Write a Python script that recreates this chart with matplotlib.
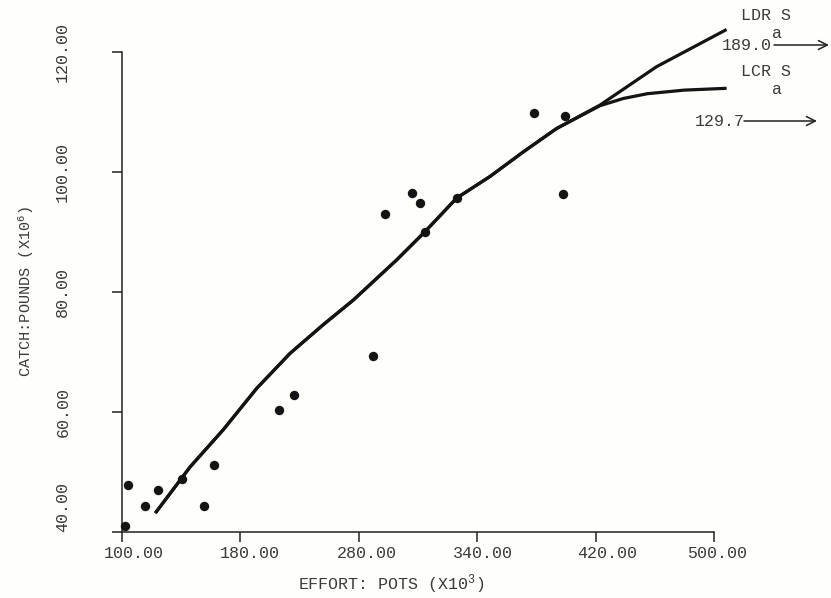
import matplotlib
matplotlib.use("Agg")
import matplotlib.pyplot as plt
from matplotlib.transforms import ScaledTranslation

# ---- data ----
effort_pts = [102.3, 104.5, 115.7, 124.3, 140.9, 155.8, 162.1, 206.4, 216.1,
              269.9, 277.8, 296.2, 301.2, 304.8, 326.2, 378.6, 398.2, 399.5]
catch_pts = [40.95, 47.8, 44.2, 46.9, 48.7, 44.2, 51.1, 60.2, 62.7,
             69.3, 93.0, 96.4, 94.8, 90.0, 95.6, 109.8, 96.3, 109.3]

ldr_x = [122.7, 146.2, 168.6, 191.2, 213.6, 236.1, 256.4, 285.7, 304.8, 326.2,
         348.7, 371.2, 393.7, 423.0, 461.2, 508.5]
ldr_y = [43.1, 50.8, 57.0, 63.9, 69.7, 74.5, 78.6, 85.3, 90.0, 95.6,
         99.2, 103.3, 107.2, 111.1, 117.5, 123.7]

lcr_x = [122.7, 146.2, 168.6, 191.2, 213.6, 236.1, 256.4, 285.7, 304.8, 326.2,
         348.7, 371.2, 393.7, 423.0, 438.7, 455.0, 480.0, 508.5]
lcr_y = [43.1, 50.8, 57.0, 63.9, 69.7, 74.5, 78.6, 85.3, 90.0, 95.6,
         99.2, 103.3, 107.2, 111.0, 112.2, 113.0, 113.6, 113.9]

x_ticks = [100, 180, 260, 340, 420, 500]
x_ticklabels = ["100.00", "180.00", "280.00", "340.00", "420.00", "500.00"]
y_ticks = [40, 60, 80, 100, 120]
y_ticklabels = ["40.00", "60.00", "80.00", "100.00", "120.00"]

# ---- style ----
FONT = "Liberation Mono"
plt.rcParams["font.family"] = [FONT, "DejaVu Sans Mono"]
plt.rcParams["mathtext.fontset"] = "custom"
plt.rcParams["mathtext.rm"] = FONT
plt.rcParams["mathtext.it"] = FONT
plt.rcParams["mathtext.bf"] = FONT
TXT = "#3a3a3a"
INK = "#141414"
BG = "#fefefa"

W, H = 831, 598
fig = plt.figure(figsize=(W / 100, H / 100), dpi=100, facecolor=BG)
ax = fig.add_axes([121.7 / W, 1 - 531.7 / H, (714 - 121.7) / W, (531.7 - 51.7) / H])
ax.set_facecolor(BG)

ax.plot(ldr_x, ldr_y, color=INK, lw=2.3, solid_capstyle="butt", clip_on=False, zorder=3)
ax.plot(lcr_x, lcr_y, color=INK, lw=2.3, solid_capstyle="butt", clip_on=False, zorder=3)
ax.scatter(effort_pts, catch_pts, s=46, color=INK, zorder=4, clip_on=False, linewidths=0)

ax.set_xlim(100, 500)
ax.set_ylim(40, 120)
for s in ["top", "right"]:
    ax.spines[s].set_visible(False)
for s in ["left", "bottom"]:
    ax.spines[s].set_color("#222222")
    ax.spines[s].set_linewidth(1.1)

ax.set_xticks(x_ticks)
ax.set_xticklabels(x_ticklabels)
ax.set_yticks(y_ticks)
ax.set_yticklabels(y_ticklabels, rotation=90, va="center")
ax.tick_params(axis="both", direction="out", length=7, width=1.1, color="#222222",
               labelsize=12, labelcolor=TXT)
ax.tick_params(axis="x", pad=3)
ax.tick_params(axis="y", pad=30)
ax.get_yticklabels()[0].set_va("bottom")

# small typewriter-style offsets of the x tick labels (pixels to the right)
for lab, dx in zip(ax.get_xticklabels(), [12, 10, 8, 6, 12, 3]):
    lab.set_transform(lab.get_transform() + ScaledTranslation(dx / 100, 0, fig.dpi_scale_trans))

ax.set_xlabel("EFFORT: POTS (X10$^3$)", fontsize=12, color=TXT, labelpad=6)
ax.xaxis.set_label_coords(0.455, -0.085)
ax.set_ylabel("CATCH:POUNDS (X10$^6$)", fontsize=11, color=TXT)
ax.yaxis.set_label_coords(-0.145, 0.5)


def ftext(px, py, s, **kw):
    fig.text(px / W, 1 - py / H, s, fontsize=12, color=TXT, va="center", ha="left", **kw)


def farrow(x0, x1, py):
    ax.annotate("", xy=(x1 / W, 1 - py / H), xytext=(x0 / W, 1 - py / H),
                xycoords="figure fraction", textcoords="figure fraction",
                arrowprops=dict(arrowstyle="->", lw=1.1, color="#222222", mutation_scale=16,
                                shrinkA=0, shrinkB=0))


ftext(741, 15, "LDR S")
ftext(772, 33, "a")
ftext(722, 45, "189.0")
farrow(774, 829, 45)

ftext(741, 72, "LCR S")
ftext(772, 90, "a")
ftext(695, 122, "129.7")
farrow(744, 817, 121)

fig.savefig("out.png", dpi=100, facecolor=BG)
